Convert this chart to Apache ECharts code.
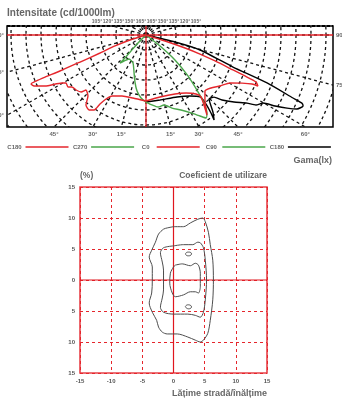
<!DOCTYPE html>
<html>
<head>
<meta charset="utf-8">
<script src="https://cdn.jsdelivr.net/npm/echarts@6.0.0/dist/echarts.min.js"></script>
<style>
  html, body { margin: 0; padding: 0; background: #fff; }
  #main { position: absolute; left: 0; top: 0; width: 342px; height: 399px; }
  #polar { position: absolute; left: 7px; top: 26px; width: 326px; height: 101px; }
</style>
</head>
<body>
<div id="main"></div>
<div id="polar"></div>
<script>
// intensity curves, [radius, angle] (angle 0 = straight down, + to the right)
const c180Red = [[0, -72], [11.2, -72.6], [21.9, -70.5], [32.9, -68.6], [47.5, -67.7], [62.2, -67.3], [72.9, -67.4],
  [79.5, -67.3], [83.3, -66.9], [82.0, -65.5], [75.4, -63.2], [64.5, -60.3], [62.2, -59.0], [62.5, -56.3],
  [60.3, -54.9], [59.3, -51.8], [57.6, -48.7], [54.3, -47.5], [56.1, -43.6], [61.5, -40.6], [62.8, -37.2],
  [60.8, -34.7], [55.3, -33.7], [50.3, -32.0], [46.5, -29.1], [43.7, -21.5], [42.9, -11.7], [44.0, 0]]
const c0Red = [[44.0, 0], [42.4, 12.7], [43.8, 26.2], [47.0, 34.6], [51.6, 40.3], [55.3, 41.6], [60.6, 39.6],
  [67.1, 37.3], [58.5, 42.2], [54.2, 46.5], [55.9, 50.8], [59.9, 55.4], [64.5, 60.3], [71.6, 63.4], [77.9, 65.2],
  [82.0, 65.5], [79.7, 66.9], [71.4, 67.5], [62.5, 68.1], [49.2, 69.4], [38.2, 70.6], [27.4, 71.6], [13.3, 72.5], [0, 72]]
const c270Green = [[0, -45], [6.6, -45], [14.6, -43.2], [21.7, -42.5], [25.5, -42.9], [22.7, -40.2], [19.6, -35.3],
  [20.6, -24.9], [25.9, -18.0], [32.2, -13.2], [37.8, -9.1], [42.1, -4.5], [44.7, 0]]
const c90Green = [[44.7, 0], [46.8, 4.9], [48.7, 9.5], [48.2, 14.4], [51.7, 19.6], [55.2, 25.0], [60.0, 30.0],
  [64.9, 33.7], [68.3, 35.9], [66.0, 38.0], [59.6, 40.5], [51.4, 42.4], [39.1, 45.7], [25.5, 49.2], [11.9, 51.8], [0, 52]]
const c180Black = [[44.7, 0], [44.3, 12.2], [46.2, 26.6], [50.1, 35.8], [54.8, 41.1], [61.0, 41.0], [67.7, 39.8],
  [72.6, 38.7], [68.0, 41.0], [59.9, 44.6], [61.4, 47.6], [66.7, 49.5], [73.7, 52.7], [81.2, 56.0], [86.9, 57.5],
  [90.2, 59.8], [98.2, 61.2], [105.9, 62.6], [112.1, 63.9], [114.9, 65.7], [113.4, 66.4], [106.6, 66.8],
  [86.8, 68.4], [61.8, 69.8], [37.4, 74.5], [19.9, 76.4], [0, 76]]

// upper panel labels
const topTickLabels = ['105°', '120°', '135°', '150°', '165°', '165°', '150°', '135°', '120°', '105°']
const bottomRayAngles = [-45, -30, -15, 15, 30, 45, 60]
const leftRayAngles = [90, 75, 60]
const rightRayAngles = [90, 75]
const legendNames = ['C180', 'C270', 'C0', 'C90', 'C180']

// utilisation contours, [width/height, %]
const outerContour = [[0, 8.6], [1.6, 8.6], [2.7, 9.2], [3.9, 9.8], [4.7, 10.0], [5.1, 9.4], [5.6, 7.7], [5.9, 5.7],
  [6.3, 3.2], [6.4, 0], [6.3, -3.2], [5.9, -6.5], [5.5, -8.6], [4.8, -9.7], [4.3, -10.0], [3.5, -9.7], [2.3, -9.2],
  [0.6, -8.7], [-1.0, -8.7], [-1.8, -8.4], [-2.4, -7.6], [-2.7, -6.5], [-3.4, -5.2], [-3.9, -3.7], [-3.5, -2.1],
  [-3.4, 0], [-3.4, 2.1], [-3.9, 3.7], [-3.5, 4.8], [-2.9, 6.1], [-2.4, 7.4], [-1.6, 8.2], [-1.0, 8.4], [0, 8.6]]
const middleContour = [[0, 5.5], [1.6, 5.7], [3.1, 5.7], [3.9, 6.1], [4.3, 6.0], [4.8, 5.2], [5.1, 3.2], [5.3, 0],
  [5.1, -3.2], [4.8, -5.2], [4.3, -6.0], [3.5, -5.7], [2.3, -5.5], [0, -5.5], [-1.6, -5.2], [-2.1, -4.4],
  [-1.8, -2.9], [-1.6, -1.6], [-1.6, 0], [-1.6, 1.6], [-1.8, 2.9], [-2.1, 4.4], [-1.6, 5.2], [0, 5.5]]
const innerContour = [[0.3, 2.4], [1.4, 2.6], [2.7, 2.3], [3.5, 2.7], [4.0, 2.4], [4.3, 1.1], [4.3, -1.1], [4.0, -2.1],
  [3.5, -1.9], [2.7, -1.9], [1.6, -2.4], [0.3, -2.7], [-0.2, -2.1], [-0.6, -0.5], [-0.5, 1.1], [0, 2.1], [0.3, 2.4]]
const spotUpper = [[1.9, 4.2], [2.1, 4.45], [2.4, 4.5], [2.75, 4.45], [2.9, 4.2], [2.7, 3.95], [2.4, 3.9], [2.1, 3.95], [1.9, 4.2]]
const spotLower = [[1.9, -4.3], [2.1, -4.05], [2.4, -4.0], [2.75, -4.1], [2.9, -4.35], [2.7, -4.6], [2.4, -4.65], [2.1, -4.55], [1.9, -4.3]]
const utilLimit = 15

const RED = '#e5262c'
const GREEN = '#4aa64a'
const GREY = '#666'
const FONT = '"Liberation Sans", Arial, sans-serif'

// ---- upper panel: polar grid clipped to the box ----
const dash = { color: '#111', type: [3, 3], width: 1.3 }
const polarCurve = (data, color) => ({
  type: 'line', coordinateSystem: 'polar', data, symbol: 'none', smooth: 0.2, silent: true,
  lineStyle: { color, width: 1.4 }
})
const polarChart = echarts.init(document.getElementById('polar'))
polarChart.setOption({
  animation: false,
  polar: { center: [139, 9], radius: 225 },
  angleAxis: {
    type: 'value', min: -180, max: 180, interval: 15, startAngle: 90, clockwise: false,
    axisLine: { show: false }, axisTick: { show: false }, axisLabel: { show: false },
    splitLine: { show: true, lineStyle: dash }
  },
  radiusAxis: {
    type: 'value', min: 0, max: 150, interval: 10,
    axisLine: { show: false }, axisTick: { show: false }, axisLabel: { show: false },
    splitLine: { show: true, lineStyle: dash }
  },
  series: [
    { type: 'line', coordinateSystem: 'polar', symbol: 'none', silent: true, lineStyle: { color: RED, width: 1.3 },
      data: [[150, -90], [0, 0], [150, 90]] },
    { type: 'line', coordinateSystem: 'polar', symbol: 'none', silent: true, lineStyle: { color: RED, width: 1.3 },
      data: [[150, 180], [0, 0], [150, 0]] },
    polarCurve(c180Black, '#000'),
    polarCurve(c270Green, GREEN),
    polarCurve(c90Green, GREEN),
    polarCurve(c180Red, RED),
    polarCurve(c0Red, RED)
  ]
})

// ---- labels, legend and the lower chart ----
const cx = 146, cy = 35, boxL = 7, boxR = 333, boxT = 26, boxB = 127
const txt = (text, x, y, size, align) => ({
  type: 'text', x, y, silent: true,
  style: { text, font: `bold ${size}px ${FONT}`, fill: GREY, align, verticalAlign: 'middle' }
})
const graphic = [
  txt('Intensitate (cd/1000lm)', 7, 13, 10, 'left'),
  { type: 'rect', silent: true, shape: { x: boxL, y: boxT, width: boxR - boxL, height: boxB - boxT },
    style: { fill: null, stroke: '#000', lineWidth: 1.5 } },
  { type: 'line', silent: true, shape: { x1: boxL, y1: boxT, x2: boxR, y2: boxT },
    style: { stroke: '#000', lineWidth: 2.2, lineDash: [3, 2] } },
  txt('Gama(lx)', 332, 161, 9, 'right'),
  txt('(%)', 80, 176, 8.5, 'left'),
  txt('Coeficient de utilizare', 267, 176, 8.5, 'right'),
  txt('Lățime stradă/înălțime', 267, 394, 9, 'right')
]
topTickLabels.forEach((t, i) => graphic.push(txt(t, 97 + 11 * i, 22, 5, 'center')))
bottomRayAngles.forEach(a => {
  const x = cx + (boxB - cy) * Math.tan(a * Math.PI / 180)
  graphic.push(txt(Math.abs(a) + '°', x, 134, 6, 'center'))
})
leftRayAngles.forEach(a => {
  const y = cy + (cx - boxL) * Math.tan((90 - a) * Math.PI / 180)
  graphic.push(txt(a + '°', 4, y, 6, 'right'))
})
rightRayAngles.forEach(a => {
  const y = cy + (boxR - cx) * Math.tan((90 - a) * Math.PI / 180)
  graphic.push(txt(String(a), 336, y, 6, 'left'))
})
const legendColors = [RED, GREEN, RED, GREEN, '#000']
legendNames.forEach((n, i) => {
  const x0 = 25.5 + 65.6 * i
  graphic.push(txt(n, x0 - 11, 147, 6, 'center'))
  graphic.push({ type: 'line', silent: true, shape: { x1: x0, y1: 147, x2: x0 + 43, y2: 147 },
    style: { stroke: legendColors[i], lineWidth: 1.3 } })
})

const contour = (data) => ({
  type: 'line', data, symbol: 'none', smooth: 0.3, silent: true, z: 3,
  lineStyle: { color: '#4d4d4d', width: 1 }
})
const zeroLine = (data) => ({
  type: 'line', data, symbol: 'none', silent: true, z: 2,
  lineStyle: { color: '#e0161e', width: 1.2 }
})
const axisCommon = {
  type: 'value', min: -utilLimit, max: utilLimit, interval: 5,
  axisLine: { show: false }, axisTick: { show: false },
  splitLine: { show: true, lineStyle: { color: RED, type: [3, 3], width: 1 } }
}
const main = echarts.init(document.getElementById('main'))
main.setOption({
  animation: false,
  grid: { left: 80, top: 187, width: 187, height: 186, show: true, borderColor: '#e8434a', borderWidth: 1.6 },
  xAxis: Object.assign({}, axisCommon, {
    axisLabel: { fontSize: 6, fontWeight: 'bold', color: '#555', fontFamily: FONT, margin: 5 }
  }),
  yAxis: Object.assign({}, axisCommon, {
    axisLabel: { fontSize: 6, fontWeight: 'bold', color: '#555', fontFamily: FONT, margin: 5,
      formatter: v => Math.abs(v) }
  }),
  series: [
    zeroLine([[0, -utilLimit], [0, utilLimit]]),
    zeroLine([[-utilLimit, 0], [utilLimit, 0]]),
    contour(outerContour),
    contour(middleContour),
    contour(innerContour),
    contour(spotUpper),
    contour(spotLower)
  ],
  graphic
})
</script>
</body>
</html>
